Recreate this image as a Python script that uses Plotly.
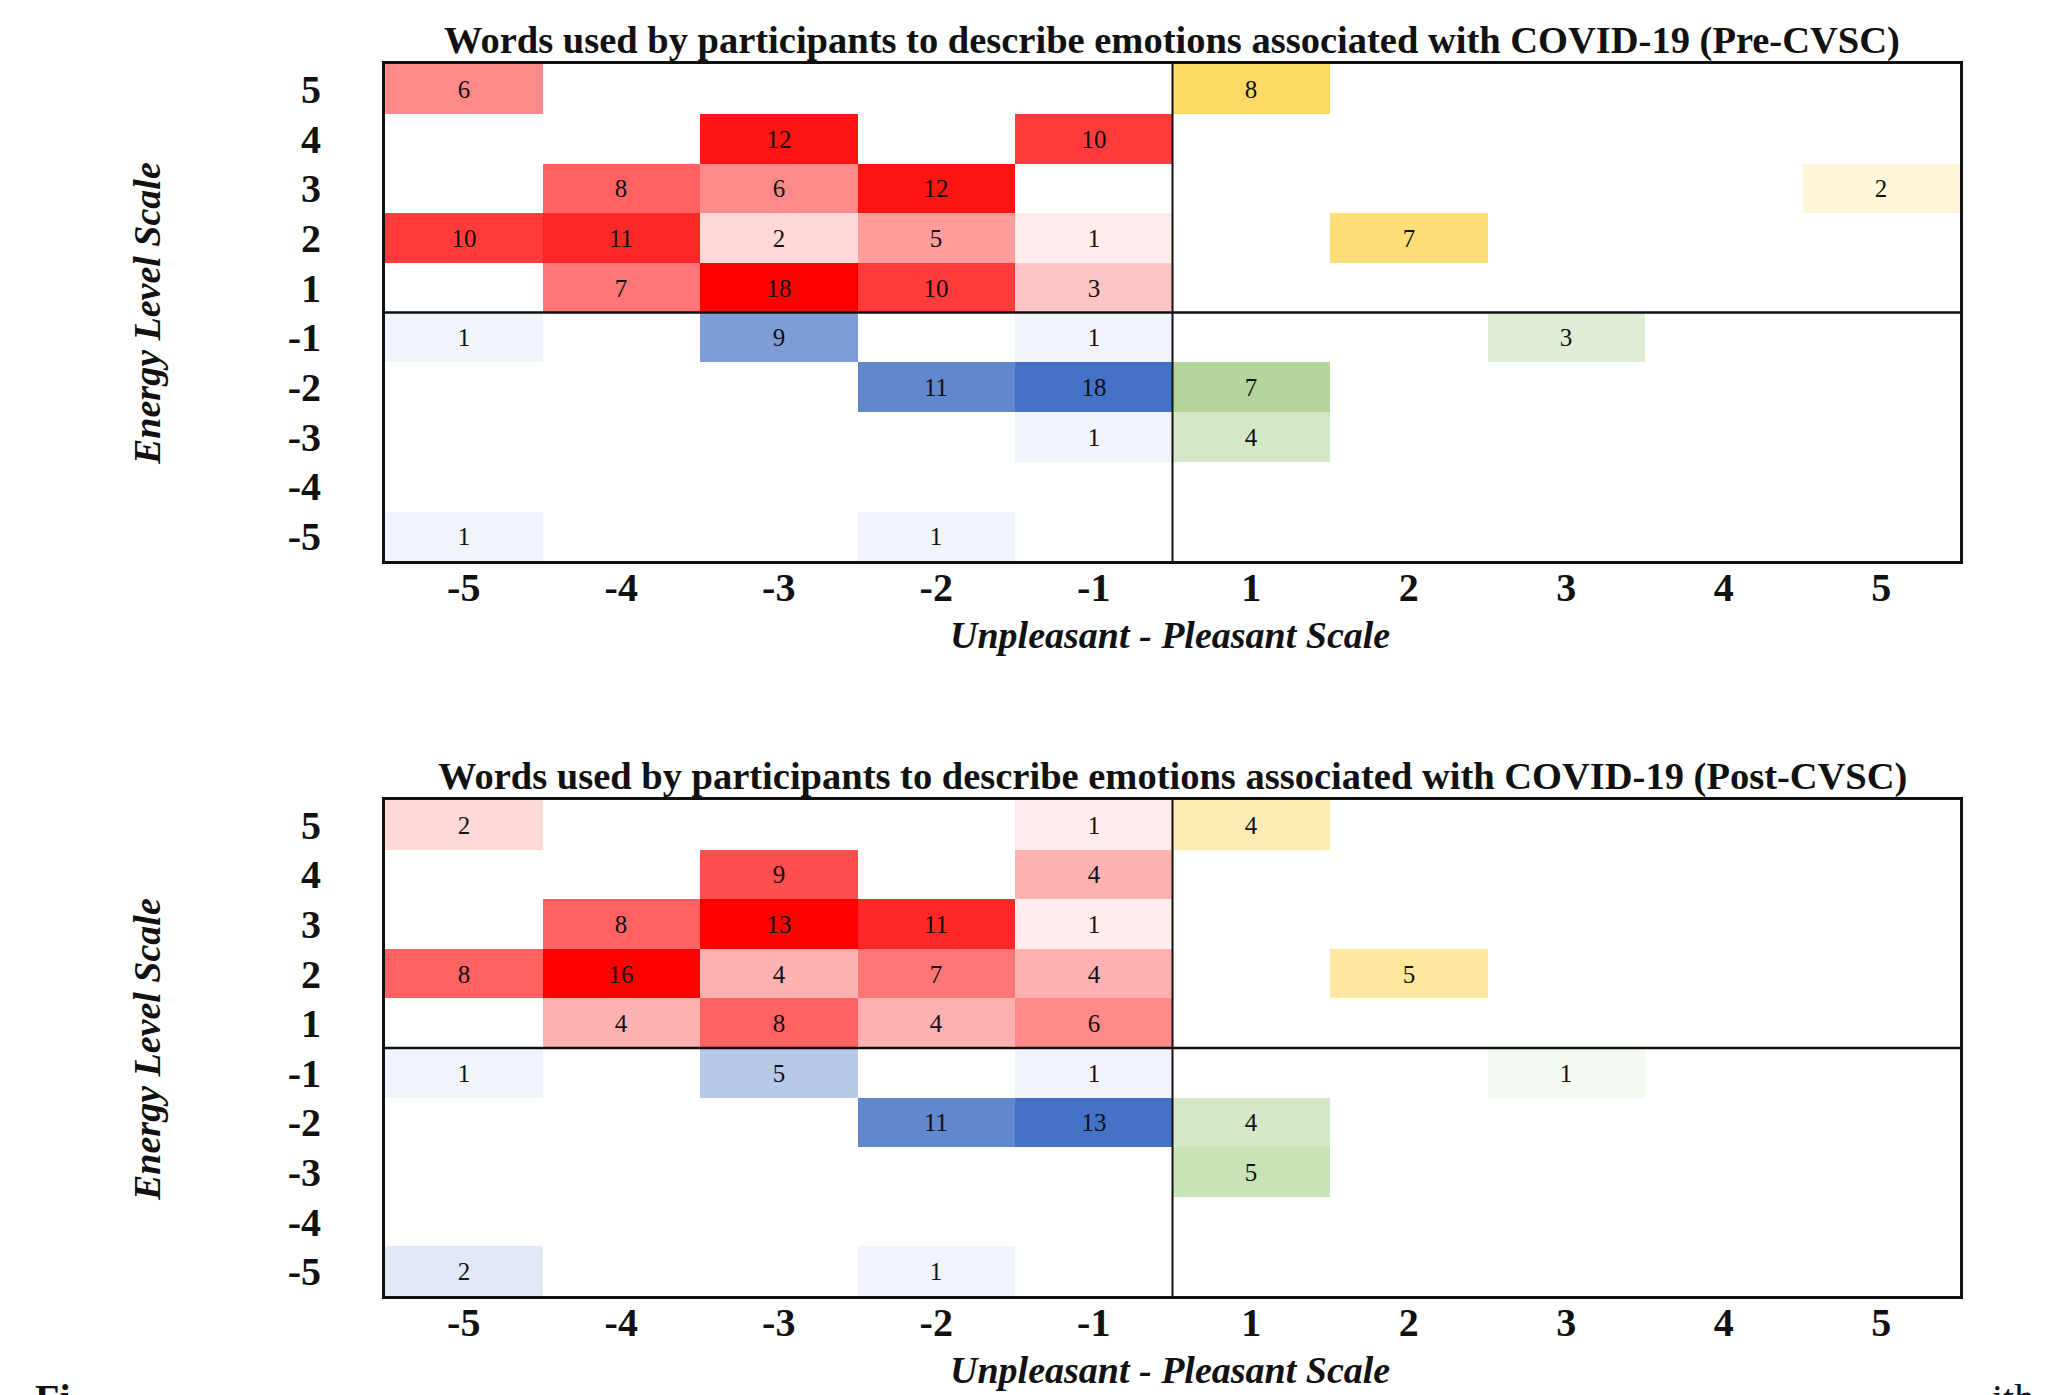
import plotly.graph_objects as go

# ---------------- data ----------------
pleasant_labels = ["-5", "-4", "-3", "-2", "-1", "1", "2", "3", "4", "5"]
energy_labels_top_to_bottom = ["5", "4", "3", "2", "1", "-1", "-2", "-3", "-4", "-5"]

N = None
# rows: energy 5 .. -5 ; cols: pleasant -5..-1, 1..5
pre_counts = [
    [6, N, N, N, N, 8, N, N, N, N],
    [N, N, 12, N, 10, N, N, N, N, N],
    [N, 8, 6, 12, N, N, N, N, N, 2],
    [10, 11, 2, 5, 1, N, 7, N, N, N],
    [N, 7, 18, 10, 3, N, N, N, N, N],
    [1, N, 9, N, 1, N, N, 3, N, N],
    [N, N, N, 11, 18, 7, N, N, N, N],
    [N, N, N, N, 1, 4, N, N, N, N],
    [N, N, N, N, N, N, N, N, N, N],
    [1, N, N, 1, N, N, N, N, N, N],
]
post_counts = [
    [2, N, N, N, 1, 4, N, N, N, N],
    [N, N, 9, N, 4, N, N, N, N, N],
    [N, 8, 13, 11, 1, N, N, N, N, N],
    [8, 16, 4, 7, 4, N, 5, N, N, N],
    [N, 4, 8, 4, 6, N, N, N, N, N],
    [1, N, 5, N, 1, N, N, 1, N, N],
    [N, N, N, 11, 13, 4, N, N, N, N],
    [N, N, N, N, N, 5, N, N, N, N],
    [N, N, N, N, N, N, N, N, N, N],
    [2, N, N, 1, N, N, N, N, N, N],
]
panel_titles = [
    "Words used by participants to describe emotions associated with COVID-19 (Pre-CVSC)",
    "Words used by participants to describe emotions associated with COVID-19 (Post-CVSC)",
]
x_title = "Unpleasant - Pleasant Scale"
y_title = "Energy Level Scale"

# quadrant colour scales: (row slice, col slice, colour, zmax)
quadrants = [
    (slice(0, 5), slice(0, 5), "#FF0000", 13),   # unpleasant, high energy
    (slice(0, 5), slice(5, 10), "#FFD966", 8),   # pleasant, high energy
    (slice(5, 10), slice(0, 5), "#4472C4", 13),  # unpleasant, low energy
    (slice(5, 10), slice(5, 10), "#A9D08E", 8),  # pleasant, low energy
]

SERIF = "Liberation Serif, Times New Roman, serif"

# page body has an 8px margin -> compensate so the picture lands at screen pixels
OFF = 8
W, H = 2046 - OFF, 1395 - OFF
ML, MR, MT, MB = 385 - OFF, 86, 64 - OFF, 99
PH = H - MT - MB
PW = W - ML - MR


def py(pix):  # screen pixel y -> paper
    return (H + OFF - MB - pix) / PH


def px(pix):  # screen pixel x -> paper
    return (pix - OFF - ML) / PW


x_idx = list(range(len(pleasant_labels)))
y_idx_top_to_bottom = list(range(len(energy_labels_top_to_bottom)))[::-1]

fig = go.Figure()

panels = [pre_counts, post_counts]
domains = [[py(561), 1.0], [0.0, py(800)]]
axis_ids = [("x", "y"), ("x2", "y2")]

for counts, (xa, ya) in zip(panels, axis_ids):
    for rs, cs, colour, zmax in quadrants:
        sub = [row[cs] for row in counts[rs]]
        txt = [["" if v is None else str(v) for v in row] for row in sub]
        fig.add_trace(go.Heatmap(
            x=x_idx[cs],
            y=y_idx_top_to_bottom[rs],
            z=sub,
            text=txt,
            texttemplate="%{text}",
            textfont=dict(family=SERIF, size=25, color="#111111"),
            colorscale=[[0, "#FFFFFF"], [1, colour]],
            zmin=0, zmax=zmax,
            showscale=False,
            hoverinfo="skip",
            xaxis=xa, yaxis=ya,
        ))

tickfont = dict(family=SERIF, size=40, color="#111111", weight="bold")
xcommon = dict(tickmode="array", tickvals=x_idx, ticktext=pleasant_labels,
               range=[-0.5, 9.5], showline=True, mirror=True, linewidth=3, linecolor="#111111",
               ticks="outside", ticklen=6, tickcolor="rgba(0,0,0,0)", tickfont=tickfont,
               ticklabelstandoff=-17,
               showgrid=False, zeroline=False, fixedrange=True)
ycommon = dict(tickmode="array", tickvals=y_idx_top_to_bottom, ticktext=energy_labels_top_to_bottom,
               range=[-0.5, 9.5], showline=True, mirror=True, linewidth=3, linecolor="#111111",
               ticks="outside", ticklen=53, tickcolor="rgba(0,0,0,0)", tickfont=tickfont,
               showgrid=False, zeroline=False, fixedrange=True)

fig.update_layout(
    width=W, height=H,
    margin=dict(l=ML, r=MR, t=MT, b=MB),
    paper_bgcolor="white", plot_bgcolor="white",
    showlegend=False,
    xaxis=dict(domain=[0, 1], anchor="y", **xcommon),
    yaxis=dict(domain=domains[0], anchor="x", **ycommon),
    xaxis2=dict(domain=[0, 1], anchor="y2", **xcommon),
    yaxis2=dict(domain=domains[1], anchor="x2", **ycommon),
)

shapes = []
annotations = []
for (xa, ya) in axis_ids:
    shapes.append(dict(type="line", xref=xa, yref=f"{ya} domain", x0=4.5, x1=4.5, y0=0, y1=1,
                       line=dict(color="#111111", width=2)))
    shapes.append(dict(type="line", xref=f"{xa} domain", yref=ya, x0=0, x1=1, y0=4.5, y1=4.5,
                       line=dict(color="#111111", width=2.5)))

# titles and axis titles
title_font = dict(family=SERIF, size=38.5, color="#111111", weight="bold")
axt_font = dict(family=SERIF, size=38, color="#111111", weight="bold", style="italic")
annotations += [
    dict(text=panel_titles[0], xref="paper", yref="paper", x=px(1172), y=py(40), showarrow=False,
         xanchor="center", yanchor="middle", font=title_font),
    dict(text=panel_titles[1], xref="paper", yref="paper", x=px(1172), y=py(776), showarrow=False,
         xanchor="center", yanchor="middle", font=title_font),
    dict(text=x_title, xref="paper", yref="paper", x=px(1170), y=py(635), showarrow=False,
         xanchor="center", yanchor="middle", font=axt_font),
    dict(text=x_title, xref="paper", yref="paper", x=px(1170), y=py(1370), showarrow=False,
         xanchor="center", yanchor="middle", font=axt_font),
    dict(text=y_title, xref="paper", yref="paper", x=px(147), y=py(314), showarrow=False,
         textangle=-90, xanchor="center", yanchor="middle", font=axt_font),
    dict(text=y_title, xref="paper", yref="paper", x=px(147), y=py(1050), showarrow=False,
         textangle=-90, xanchor="center", yanchor="middle", font=axt_font),
    # cut-off caption fragments at the bottom edge
    dict(text="Fi", xref="paper", yref="paper", x=px(33), y=py(1374), showarrow=False,
         xanchor="left", yanchor="top", font=dict(family=SERIF, size=40, color="#111111", weight="bold")),
    dict(text="ith", xref="paper", yref="paper", x=px(1990), y=py(1374), showarrow=False,
         xanchor="left", yanchor="top", font=dict(family=SERIF, size=40, color="#111111")),
]

fig.update_layout(shapes=shapes, annotations=annotations)

fig.write_html("out.html")
